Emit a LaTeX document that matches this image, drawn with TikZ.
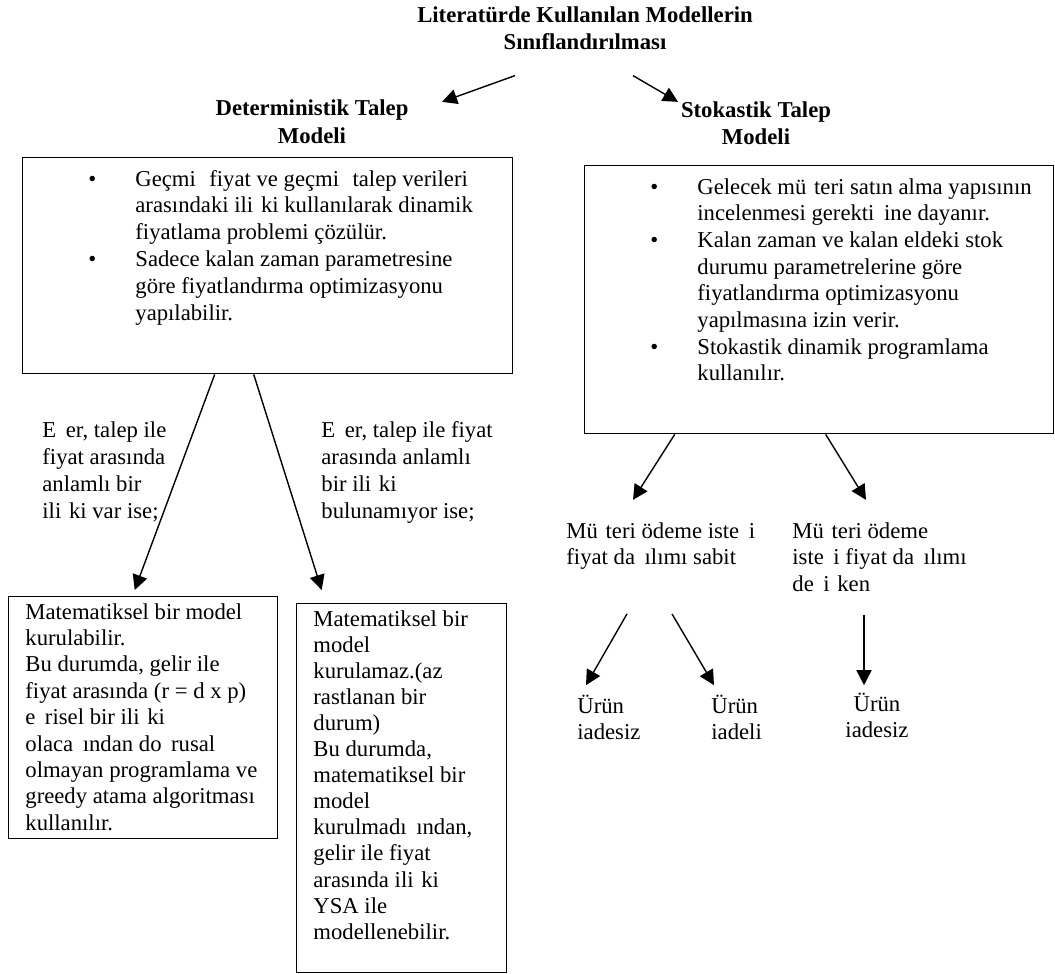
\documentclass[tikz,border=0pt]{standalone}
\usepackage{fontspec}
\setmainfont{Liberation Serif}
\usetikzlibrary{arrows.meta}

% gaps where the picture drops a letter
\newcommand{\gapS}{\hspace{0.34em}}
\newcommand{\gapG}{\hspace{0.42em}}
\newcommand{\bulletmark}{\leavevmode\llap{\makebox[23.5pt][l]{\textbullet}}}

\begin{document}
\begin{tikzpicture}[x=0.5pt, y=-0.5pt]
  \tikzstyle{heading} = [font=\fontsize{11.35}{13.5}\selectfont\bfseries, text width=200pt, align=flush center, inner sep=0pt, anchor=base]
  \tikzstyle{box} = [rectangle, draw, line width=0.7pt, anchor=north west, inner sep=0pt]
  \tikzstyle{body} = [font=\fontsize{11.35}{13.4}\selectfont, text width=250pt, align=flush left, inner sep=0pt, anchor=base west]
  \tikzstyle{arrow} = [line width=0.7pt, -{Triangle[length=7.5pt, width=7.5pt]}]

  \useasboundingbox (0,0) rectangle (1055,974);

  % Title and the two models
  \node [heading] (title) at (585,23) {Literatürde Kullanılan Modellerin\\Sınıflandırılması};
  \node [heading] (det) at (312,116) {Deterministik Talep\\Modeli};
  \node [heading] (sto) at (756,118) {Stokastik Talep\\Modeli};

  % Deterministic box
  \node [box, minimum width=245pt, minimum height=108pt] (detbox) at (22,157) {};
  \node [body] (dettext) at (135,186) {\bulletmark Geçmi\gapS\ fiyat ve geçmi\gapS\ talep verileri\\
    arasındaki ili\gapS ki kullanılarak dinamik\\
    fiyatlama problemi çözülür.\\
    \bulletmark Sadece kalan zaman parametresine\\
    göre fiyatlandırma optimizasyonu\\
    yapılabilir.};

  % Stochastic box
  \node [box, minimum width=234.5pt, minimum height=134pt] (stobox) at (584,165) {};
  \node [body, font=\fontsize{11.35}{13.35}\selectfont] (stotext) at (697,194) {\bulletmark Gelecek mü\gapS teri satın alma yapısının\\
    incelenmesi gerekti\gapG ine dayanır.\\
    \bulletmark Kalan zaman ve kalan eldeki stok\\
    durumu parametrelerine göre\\
    fiyatlandırma optimizasyonu\\
    yapılmasına izin verir.\\
    \bulletmark Stokastik dinamik programlama\\
    kullanılır.};

  % Conditions under the deterministic box
  \node [body, font=\fontsize{11.35}{13.5}\selectfont] (ifrel) at (42,437) {E\gapG er, talep ile\\fiyat arasında\\anlamlı bir\\ili\gapS ki var ise;};
  \node [body, font=\fontsize{11.35}{13.5}\selectfont] (ifnorel) at (321,437) {E\gapG er, talep ile fiyat\\arasında anlamlı\\bir ili\gapS ki\\bulunamıyor ise;};

  % Result boxes
  \node [box, minimum width=134.5pt, minimum height=121pt] (mathbox) at (8,596) {};
  \node [body, font=\fontsize{11.35}{13.2}\selectfont] (mathtext) at (25,619) {Matematiksel bir model\\
    kurulabilir.\\
    Bu durumda, gelir ile\\
    fiyat arasında (r = d x p)\\
    e\gapG risel bir ili\gapS ki\\
    olaca\gapG ından do\gapG rusal\\
    olmayan programlama ve\\
    greedy atama algoritması\\
    kullanılır.};
  \node [box, minimum width=105pt, minimum height=184.5pt] (nomathbox) at (296,603) {};
  \node [body, font=\fontsize{11.35}{13.05}\selectfont] (nomathtext) at (313,626) {Matematiksel bir\\
    model\\
    kurulamaz.(az\\
    rastlanan bir\\
    durum)\\
    Bu durumda,\\
    matematiksel bir\\
    model\\
    kurulmadı\gapG ından,\\
    gelir ile fiyat\\
    arasında ili\gapS ki\\
    YSA ile\\
    modellenebilir.};

  % Price distribution cases
  \node [body, font=\fontsize{11.35}{13.3}\selectfont] (payfix) at (566,538) {Mü\gapS teri ödeme iste\gapG i\\fiyat da\gapG ılımı sabit};
  \node [body, font=\fontsize{11.35}{13.3}\selectfont] (payvar) at (792,538) {Mü\gapS teri ödeme\\iste\gapG i fiyat da\gapG ılımı\\de\gapG i\gapS ken};
  \node [body, font=\fontsize{11.35}{13.3}\selectfont] (urun1) at (577,713) {Ürün\\iadesiz};
  \node [body, font=\fontsize{11.35}{13.3}\selectfont] (urun2) at (711,713) {Ürün\\iadeli};
  \node [body, font=\fontsize{11.35}{13.3}\selectfont, text width=40pt, align=flush center, anchor=base] (urun3) at (877,711) {Ürün\\iadesiz};

  % Arrows
  \draw [arrow] ([shift={(-70,25)}]title.south) -- ([shift={(130,2)}]det.north);
  \draw [arrow] ([shift={(48,25)}]title.south) -- ([shift={(-78,0)}]sto.north);
  \draw [arrow] ([shift={(-53,0)}]detbox.south) -- ([shift={(-8.5,-6)}]mathbox.north);
  \draw [arrow] ([shift={(-14,0)}]detbox.south) -- ([shift={(-80,-13)}]nomathbox.north);
  \draw [arrow] ([shift={(-144.5,0)}]stobox.south) -- ([shift={(67,-22)}]payfix.north west);
  \draw [arrow] ([shift={(6.5,0)}]stobox.south) -- ([shift={(74,-22)}]payvar.north west);
  \draw [arrow] ([shift={(61,44)}]payfix.south west) -- ([shift={(9,-9)}]urun1.north west);
  \draw [arrow] ([shift={(106,44)}]payfix.south west) -- ([shift={(3,-9)}]urun2.north west);
  \draw [arrow] ([shift={(72,23)}]payvar.south west) -- ([shift={(-13,-7)}]urun3.north);
\end{tikzpicture}
\end{document}
